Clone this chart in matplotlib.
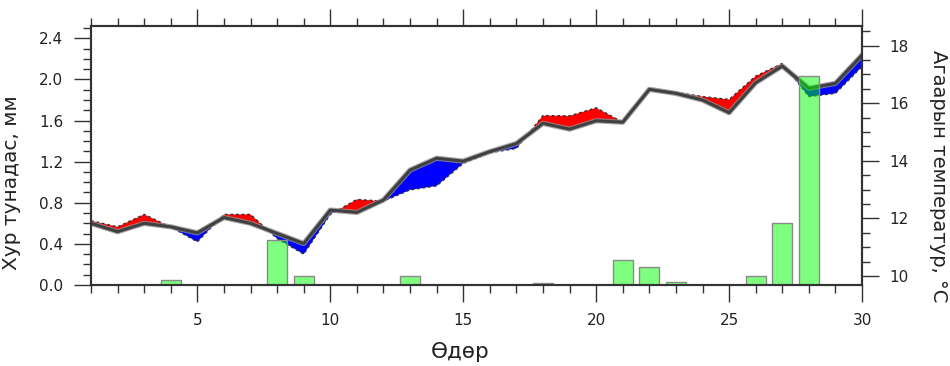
import numpy as np
import matplotlib
matplotlib.use("Agg")
import matplotlib.pyplot as plt
from matplotlib.ticker import MultipleLocator, FixedLocator

plt.rcParams['font.family'] = ['DejaVu Sans']

days = np.arange(1, 31)

# олон жилийн дундаж (саарал шугам), °C
t_norm = [11.83, 11.54, 11.83, 11.71, 11.50, 12.03, 11.83, 11.48, 11.13, 12.29,
          12.21, 12.64, 13.68, 14.09, 13.99, 14.32, 14.60, 15.30, 15.10, 15.39,
          15.34, 16.48, 16.34, 16.11, 15.67, 16.71, 17.29, 16.52, 16.69, 17.67]

# ажиглагдсан температур, °C
t_obs = [11.92, 11.71, 12.14, 11.70, 11.19, 12.14, 12.14, 11.30, 10.76, 12.14,
         12.66, 12.60, 12.99, 13.13, 13.91, 14.28, 14.43, 15.57, 15.56, 15.84,
         15.34, 16.48, 16.38, 16.23, 16.13, 16.94, 17.38, 16.23, 16.34, 17.27]

# хур тунадас, мм
precip = [0, 0, 0, 0.05, 0, 0, 0, 0.44, 0.09, 0,
          0, 0, 0.09, 0, 0, 0, 0, 0.02, 0, 0,
          0.24, 0.18, 0.03, 0, 0, 0.09, 0.60, 2.03, 0, 0]

fig = plt.figure(figsize=(9.5, 3.66), dpi=100)
ax = fig.add_axes([0.0958, 0.2213, 0.8116, 0.7077])
ax2 = ax.twinx()
# bars go on top of the temperature curves
ax.set_zorder(ax2.get_zorder() + 1)
ax.patch.set_visible(False)

# temperature
tn = np.array(t_norm)
to = np.array(t_obs)
ax2.fill_between(days, tn, to, where=to >= tn, interpolate=True,
                 color='#ff0000', lw=0)
ax2.fill_between(days, tn, to, where=to <= tn, interpolate=True,
                 color='#0000ff', lw=0)
ax2.plot(days, t_obs, color='#333333', lw=1, ls=(0, (2, 2)))
ax2.plot(days, t_norm, color='#909090', lw=3.8, alpha=0.8,
         solid_joinstyle='round')
ax2.plot(days, t_norm, color='#404040', lw=2.2, solid_joinstyle='round')

# precipitation
ax.bar(days, precip, width=0.75, facecolor=(0, 1, 0, 0.5),
       edgecolor='#8a8a8a', lw=1)

ax.set_xlim(1, 30)
ax.set_ylim(0, 2.52)
ax2.set_ylim(9.69, 18.68)

ax.xaxis.set_major_locator(FixedLocator([5, 10, 15, 20, 25, 30]))
ax.xaxis.set_minor_locator(MultipleLocator(1))
ax.yaxis.set_major_locator(MultipleLocator(0.4))
ax.yaxis.set_minor_locator(MultipleLocator(0.1))
ax2.yaxis.set_major_locator(MultipleLocator(2))
ax2.yaxis.set_minor_locator(MultipleLocator(0.5))
ax.yaxis.set_major_formatter(matplotlib.ticker.FormatStrFormatter('%.1f'))

dark = '#333333'
for a in (ax, ax2):
    for s in a.spines.values():
        s.set_color(dark)
        s.set_linewidth(1.5)
ax.tick_params(axis='x', which='both', direction='out', top=True, bottom=True,
               color=dark, width=1)
ax.tick_params(axis='y', which='both', direction='out', left=True, right=False,
               color=dark, width=1)
ax2.tick_params(axis='y', which='both', direction='out', color=dark, width=1)
for a in (ax, ax2):
    a.tick_params(which='major', length=12, labelsize=11, pad=8,
                  labelcolor='#222222')
    a.tick_params(which='minor', length=5.5)

ax.set_ylabel('Хур тунадас, мм', fontsize=14.5, color='#222222', va='center')
ax.yaxis.set_label_coords(-0.1025, 0.394)
ax2.set_ylabel('Агаарын температур, °C', fontsize=14, color='#222222',
               rotation=270, va='center')
ax2.yaxis.set_label_coords(1.0986, 0.419)
ax.set_xlabel('Өдөр', fontsize=15.5, color='#222222', va='center')
ax.xaxis.set_label_coords(0.479, -0.259)

fig.savefig('out.png', dpi=100)
